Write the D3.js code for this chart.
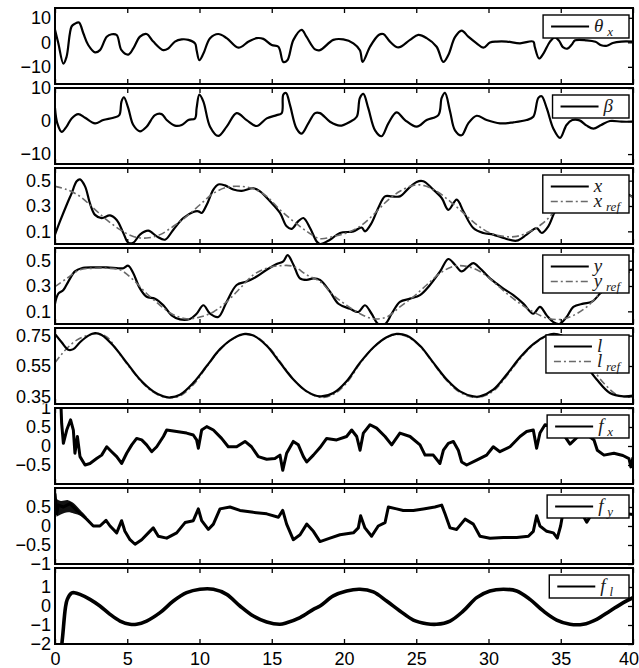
<!DOCTYPE html>
<html lang="en">
<head>
    <meta charset="UTF-8">
    <title>signals</title>
    <script src="https://cdn.jsdelivr.net/npm/d3@7"></script>
    <style>
        body { margin: 0; background: #fff; }
        .tick text { font-family: "Liberation Sans", Arial, sans-serif; font-size: 18px; fill: #000; }
        .leg text { font-family: "Liberation Serif", "DejaVu Serif", serif; font-style: italic; fill: #1a1a1a; }
    </style>
</head>
<body>
<div id="chart"></div>
<script>
// time axis ticks
const xTicks = [0, 5, 10, 15, 20, 25, 30, 35, 40];

// theta_x
const thetaX = [[0,5.1],[0.23,-0.4],[0.58,-8.7],[0.8,-5.9],[1.15,6.5],[1.38,7.6],[1.66,8.1],[1.96,3.7],[2.3,-1.1],[2.77,-4.1],[3.11,-3.2],[3.58,2.3],[3.92,3.3],[4.27,3.0],[4.6,-3.2],[5.07,-5.0],[5.42,-2.5],[5.88,2.3],[6.34,3.4],[6.8,0.3],[7.5,-3.2],[7.84,-2.5],[8.3,0.3],[8.77,1.2],[9.23,1.0],[9.69,-0.4],[9.8,-3.2],[9.99,-7.3],[10.27,-4.6],[10.73,1.7],[11.3,3.4],[11.88,1.7],[12.69,-2.2],[13.4,0.3],[13.96,1.7],[14.42,1.4],[15.0,-1.1],[15.46,-1.8],[15.8,-8.0],[16.08,-7.3],[16.5,1.0],[17.07,5.1],[17.4,2.3],[18.0,-2.9],[18.34,-3.2],[19.26,1.0],[19.95,1.2],[20.65,-0.4],[21.1,-3.2],[21.29,-8.0],[21.8,-1.8],[22.4,3.0],[22.72,3.4],[23.18,0.3],[23.76,-2.1],[24.57,1.0],[25.14,3.0],[25.72,1.7],[26.41,-1.8],[26.87,-8.0],[27.22,-5.2],[27.68,2.1],[28.14,4.8],[28.6,2.3],[29.18,-0.4],[29.64,-2.2],[30.1,-0.1],[30.57,0.3],[31.26,0.3],[32.18,-0.4],[33.1,0.3],[33.2,-1.8],[33.5,-6.6],[33.8,-4.6],[34.26,0.3],[34.6,2.0],[34.9,0.5],[35.15,-2.0],[35.45,-2.6],[35.75,-1.0],[36.0,0.8],[36.8,0.8],[37.4,0.2],[37.8,-1.2],[38.2,-1.4],[38.6,-0.3],[39.2,0.3],[40,0.3]];

// beta
const beta = [[0,3.9],[0.16,-0.7],[0.46,-3.3],[0.8,-1.7],[1.15,0.8],[1.61,2.1],[2.08,1.0],[2.77,-0.7],[3.34,0.3],[4.04,1.0],[4.45,1.8],[4.6,5.9],[4.77,7.2],[5.07,3.9],[5.42,-1.2],[5.88,-3.1],[6.34,-1.7],[6.92,1.8],[7.38,2.1],[7.73,0.3],[8.3,-1.4],[8.77,-1.2],[9.23,0.3],[9.69,0.8],[9.8,3.9],[9.99,8.0],[10.27,5.9],[10.73,-1.7],[11.3,-4.5],[11.88,-1.7],[12.57,2.4],[13.26,0.3],[13.96,-1.5],[14.65,0.8],[15.34,1.8],[15.69,2.4],[15.8,8.0],[15.99,8.5],[16.26,4.9],[16.72,-2.3],[17.07,-3.8],[17.53,-0.7],[18.0,2.4],[18.34,2.4],[19.03,-0.2],[19.72,-1.4],[20.42,-0.2],[20.88,1.3],[21.1,7.0],[21.34,8.2],[21.68,3.9],[22.15,-2.8],[22.6,-4.6],[23.07,-0.7],[23.64,2.6],[24.22,0.3],[25.03,-1.7],[25.72,0.3],[26.53,1.8],[26.76,7.0],[26.99,8.5],[27.34,2.9],[27.68,-2.8],[28.14,-4.3],[28.6,-0.7],[29.18,1.6],[29.87,0.3],[30.8,-0.7],[31.72,-0.4],[32.64,0.3],[33.1,1.3],[33.45,7.0],[33.68,7.5],[34.03,3.9],[34.49,-2.3],[34.95,-5.1],[35.4,-1.2],[35.8,0.3],[36.3,0.2],[36.8,-1.4],[37.26,-2.3],[37.8,-1.2],[38.4,0.0],[39.2,-0.2],[40,-0.2]];

// x and x_ref
const xPos = [[0,0.074],[0.35,0.18],[0.81,0.31],[1.15,0.40],[1.5,0.495],[1.73,0.51],[2.08,0.455],[2.42,0.32],[2.77,0.23],[3.23,0.205],[3.81,0.226],[4.27,0.19],[4.73,0.087],[5.07,0.01],[5.42,0.01],[5.88,0.074],[6.46,0.105],[7.04,0.06],[7.61,0.034],[8.19,0.113],[8.88,0.205],[9.57,0.253],[9.92,0.258],[10.15,0.245],[10.5,0.31],[10.96,0.43],[11.3,0.47],[11.76,0.463],[12.34,0.43],[12.92,0.42],[13.73,0.44],[14.19,0.416],[14.88,0.337],[15.57,0.245],[16.03,0.14],[16.38,0.12],[16.84,0.18],[17.19,0.205],[17.65,0.126],[18.11,0.02],[18.34,0.0],[19.03,0.034],[19.72,0.087],[20.65,0.1],[21.22,0.13],[21.45,0.1],[21.91,0.166],[22.37,0.284],[22.84,0.376],[23.3,0.376],[23.87,0.376],[24.45,0.437],[25.03,0.49],[25.49,0.495],[26.06,0.442],[26.76,0.363],[27.22,0.27],[27.8,0.35],[28.26,0.258],[28.95,0.126],[29.64,0.087],[30.33,0.074],[31.03,0.047],[31.95,0.026],[32.64,0.074],[33.33,0.126],[33.68,0.087],[34.14,0.14],[34.49,0.23],[34.83,0.31],[35.4,0.42],[36.0,0.47],[36.6,0.46],[37.3,0.44],[38.0,0.47],[38.6,0.48],[39.3,0.42],[40,0.37]];
const xRef = [[0,0.455],[0.81,0.43],[1.73,0.376],[2.65,0.284],[3.58,0.19],[4.5,0.113],[5.42,0.06],[6.34,0.047],[7.27,0.074],[8.19,0.14],[9.11,0.218],[10.03,0.31],[10.96,0.4],[11.88,0.447],[12.8,0.455],[13.73,0.437],[14.65,0.376],[15.57,0.27],[16.5,0.18],[17.42,0.1],[18.34,0.042],[19.26,0.06],[20.18,0.087],[21.11,0.14],[22.03,0.23],[22.95,0.337],[23.87,0.416],[24.8,0.463],[25.49,0.463],[26.41,0.416],[27.34,0.337],[28.26,0.245],[29.18,0.153],[30.1,0.087],[31.03,0.06],[31.95,0.06],[32.87,0.1],[33.79,0.166],[34.49,0.245],[35.4,0.33],[36.3,0.41],[37.2,0.45],[38.1,0.455],[39.0,0.42],[40,0.37]];

// y and y_ref
const yPos = [[0,0.16],[0.23,0.24],[0.58,0.268],[0.92,0.335],[1.38,0.415],[1.84,0.44],[2.65,0.447],[3.58,0.447],[4.38,0.44],[4.73,0.44],[5.07,0.46],[5.42,0.4],[5.88,0.28],[6.34,0.215],[6.92,0.2],[7.5,0.148],[8.07,0.068],[8.65,0.036],[9.34,0.04],[9.8,0.081],[10.27,0.148],[10.73,0.081],[11.3,0.055],[11.88,0.175],[12.57,0.308],[13.26,0.335],[13.96,0.375],[14.65,0.428],[15.34,0.473],[15.8,0.495],[16.1,0.543],[16.5,0.468],[16.95,0.36],[17.42,0.348],[17.88,0.36],[18.34,0.348],[19.03,0.255],[19.61,0.16],[20.41,0.12],[20.99,0.095],[21.45,0.148],[21.91,0.081],[22.37,0.0],[22.84,0.0],[23.3,0.081],[23.87,0.175],[24.57,0.2],[25.26,0.228],[25.95,0.308],[26.65,0.415],[27.22,0.513],[27.68,0.468],[28.14,0.415],[28.6,0.455],[28.95,0.48],[29.41,0.44],[30.1,0.36],[31.03,0.28],[31.72,0.228],[32.41,0.161],[33.1,0.081],[33.56,0.135],[34.03,0.068],[34.49,0.015],[34.9,0.0],[35.41,0.055],[35.87,0.135],[36.56,0.161],[37.14,0.175],[37.72,0.24],[38.3,0.31],[38.9,0.38],[39.5,0.42],[40,0.43]];
const yRef = [[0,0.295],[0.81,0.36],[1.73,0.428],[2.65,0.44],[3.58,0.44],[4.5,0.428],[5.42,0.348],[6.34,0.241],[7.27,0.148],[8.19,0.073],[9.11,0.041],[10.03,0.055],[10.96,0.095],[11.88,0.175],[12.8,0.281],[13.73,0.388],[14.65,0.44],[15.57,0.46],[16.5,0.455],[17.42,0.388],[18.34,0.335],[19.26,0.228],[20.18,0.148],[21.11,0.081],[22.03,0.041],[22.95,0.055],[23.87,0.135],[24.8,0.215],[25.72,0.308],[26.65,0.401],[27.57,0.455],[28.49,0.455],[29.41,0.415],[30.33,0.335],[31.26,0.241],[32.18,0.161],[33.1,0.095],[34.03,0.047],[34.95,0.036],[35.87,0.068],[36.8,0.135],[37.72,0.241],[38.6,0.33],[39.4,0.39],[40,0.42]];

// l and l_ref
const lLen = [[0,0.761],[0.46,0.706],[0.92,0.657],[1.27,0.661],[1.73,0.706],[2.31,0.75],[2.77,0.766],[3.23,0.754],[4.04,0.683],[4.96,0.572],[5.88,0.461],[6.8,0.383],[7.5,0.35],[7.96,0.343],[8.65,0.361],[9.57,0.439],[10.5,0.55],[11.42,0.661],[12.34,0.732],[13.15,0.761],[13.73,0.75],[14.65,0.683],[15.57,0.572],[16.5,0.461],[17.42,0.383],[18.34,0.35],[19.26,0.372],[20.18,0.45],[21.11,0.572],[22.03,0.672],[22.95,0.739],[23.64,0.761],[24.33,0.75],[25.26,0.683],[26.18,0.572],[27.11,0.461],[28.03,0.383],[28.95,0.35],[29.41,0.35],[30.33,0.394],[31.26,0.494],[32.18,0.606],[33.1,0.694],[34.03,0.75],[34.5,0.762],[35.0,0.752],[35.7,0.683],[36.6,0.572],[37.49,0.461],[38.4,0.372],[39.33,0.35],[40,0.355]];
const lRef = [[0,0.572],[0.46,0.628],[0.92,0.675],[1.5,0.72],[2.2,0.75],[2.9,0.763],[3.6,0.74],[4.5,0.625],[5.4,0.512],[6.3,0.415],[7.2,0.357],[7.96,0.34],[8.7,0.355],[9.6,0.43],[10.5,0.545],[11.4,0.655],[12.3,0.728],[13.15,0.758],[14.0,0.738],[14.9,0.663],[15.8,0.55],[16.7,0.44],[17.6,0.37],[18.5,0.343],[19.3,0.365],[20.2,0.44],[21.1,0.565],[22.0,0.667],[22.9,0.735],[23.65,0.758],[24.4,0.742],[25.3,0.675],[26.2,0.565],[27.1,0.455],[28.0,0.378],[28.9,0.345],[29.6,0.35],[30.4,0.39],[31.3,0.49],[32.2,0.6],[33.1,0.69],[34.0,0.745],[34.6,0.758],[35.3,0.745],[36.2,0.66],[37.1,0.545],[38.0,0.435],[38.9,0.36],[39.6,0.345],[40,0.348]];

// forces
const fx = [[0,1.3],[0.4,1.2],[0.46,0.6],[0.58,0.07],[0.81,0.42],[1.08,0.69],[1.27,0.42],[1.38,-0.19],[1.55,0.25],[1.73,-0.28],[2.08,-0.5],[2.42,-0.46],[2.88,-0.33],[3.23,-0.24],[3.58,-0.02],[3.92,-0.15],[4.27,-0.28],[4.61,-0.46],[4.96,-0.19],[5.31,0.03],[5.65,0.2],[6.0,0.16],[6.34,0.03],[6.69,-0.15],[7.04,-0.02],[7.5,0.25],[7.73,0.42],[8.42,0.38],[9.11,0.34],[9.57,0.29],[9.8,0.16],[9.92,-0.06],[10.15,0.42],[10.5,0.51],[10.96,0.42],[11.53,0.2],[11.99,-0.02],[12.57,-0.02],[13.15,0.12],[13.6,-0.02],[14.07,-0.28],[14.65,-0.35],[15.22,-0.33],[15.57,-0.24],[15.76,-0.64],[16.03,-0.19],[16.49,0.12],[16.84,0.03],[17.19,-0.28],[17.42,-0.42],[17.88,-0.24],[18.34,-0.04],[18.8,0.2],[19.49,0.16],[20.18,0.25],[20.53,0.42],[20.88,0.25],[21.11,-0.11],[21.34,0.34],[21.8,0.56],[22.26,0.47],[22.84,0.25],[23.3,0.03],[23.87,0.34],[24.57,0.25],[25.26,0.03],[25.61,-0.24],[26.18,-0.24],[26.64,-0.46],[26.88,-0.11],[27.22,0.07],[27.57,0.12],[27.91,-0.11],[28.14,-0.42],[28.49,-0.5],[29.18,-0.37],[29.87,-0.24],[30.33,-0.02],[30.79,-0.15],[31.49,-0.02],[32.18,0.25],[32.64,0.38],[33.1,0.42],[33.33,-0.06],[33.56,0.34],[33.91,0.56],[34.5,0.5],[35.2,0.3],[35.64,0.05],[36.2,0.25],[36.8,0.3],[37.3,0.16],[37.53,-0.11],[37.99,-0.24],[38.68,-0.19],[39.3,-0.25],[39.72,-0.33],[39.85,-0.55],[40,-0.3]];
const fy = [[0,0.86],[0.12,0.32],[0.23,0.55],[0.58,0.5],[1.04,0.59],[1.5,0.41],[2.19,0.18],[2.65,0.0],[3.11,0.0],[3.53,0.15],[3.81,0.0],[4.27,-0.18],[4.61,0.14],[4.84,-0.14],[5.19,-0.36],[5.54,-0.48],[6.0,-0.36],[6.46,-0.18],[6.8,-0.05],[7.15,-0.27],[7.73,-0.32],[8.42,-0.18],[9.0,0.09],[9.57,0.14],[9.92,0.45],[10.15,0.14],[10.61,-0.09],[10.96,0.05],[11.42,0.45],[12.11,0.5],[12.8,0.41],[13.73,0.36],[14.65,0.32],[15.46,0.23],[15.76,0.41],[16.03,0.05],[16.49,-0.36],[16.96,-0.23],[17.42,0.05],[17.88,-0.14],[18.34,-0.41],[19.03,-0.32],[19.72,-0.23],[20.65,-0.18],[20.99,-0.05],[21.15,0.27],[21.45,-0.05],[21.91,-0.27],[22.37,0.0],[22.84,0.09],[23.07,0.5],[23.64,0.45],[24.1,0.41],[24.8,0.41],[25.49,0.45],[26.29,0.5],[26.76,0.55],[26.99,0.32],[27.34,-0.05],[27.8,-0.09],[28.38,0.18],[28.95,0.05],[29.41,-0.27],[30.1,-0.32],[31.03,-0.3],[31.95,-0.3],[32.76,-0.27],[33.1,-0.14],[33.33,0.27],[33.56,0.0],[34.03,-0.14],[34.49,-0.18],[34.76,-0.32],[34.99,0.0],[35.2,0.45],[35.8,0.4],[36.5,0.3],[36.8,0.1],[37.2,0.35],[38.0,0.4],[39.0,0.35],[40,0.3]];
// envelope of the fast oscillation in f_y at start-up
const fyBandHi = [[0.1,0.72],[0.4,0.66],[0.9,0.68],[1.3,0.6],[1.8,0.4],[2.2,0.24]];
const fyBandLo = [[0.1,0.24],[0.4,0.3],[0.9,0.36],[1.3,0.33],[1.8,0.26],[2.2,0.14]];
const fl = [[0,-2.6],[0.4,-2.3],[0.5,-1.8],[0.72,-0.1],[0.85,0.35],[1.15,0.68],[1.35,0.7],[1.73,0.61],[2.42,0.35],[3.11,0.0],[3.81,-0.44],[4.5,-0.79],[5.19,-0.96],[5.65,-0.96],[6.34,-0.79],[7.27,-0.35],[8.19,0.26],[9.11,0.7],[10.03,0.88],[10.96,0.88],[11.88,0.61],[12.8,0.0],[13.73,-0.53],[14.65,-0.84],[15.57,-0.96],[16.03,-0.88],[16.96,-0.61],[17.88,-0.18],[18.34,0.0],[19.26,0.53],[20.18,0.79],[21.11,0.88],[22.03,0.74],[22.95,0.26],[23.87,-0.26],[24.8,-0.74],[25.72,-0.93],[26.41,-0.96],[27.34,-0.79],[28.26,-0.26],[29.18,0.44],[30.1,0.79],[31.03,0.88],[31.95,0.79],[32.87,0.35],[33.79,-0.26],[34.72,-0.74],[35.64,-0.96],[36.56,-0.96],[37.49,-0.7],[38.41,-0.26],[39.33,0.18],[40,0.44]];

// y limits and tick values of each panel
const yLims = [[-17, 14], [-13, 10], [0, 0.6], [0, 0.6], [0.3, 0.8], [-1, 1], [-1, 1], [-2, 2]];
const yTickVals = [[-10, 0, 10], [-10, 0, 10], [0.1, 0.3, 0.5], [0.1, 0.3, 0.5], [0.35, 0.55, 0.75], [-0.5, 0, 0.5, 1], [-1, -0.5, 0, 0.5], [-2, -1, 0, 1]];

const panels = [
    { lines: [{ d: thetaX, k: "solid" }], leg: [{ s: "θ", sub: "x", k: "solid" }] },
    { lines: [{ d: beta, k: "solid" }], leg: [{ s: "β", sub: "", k: "solid" }] },
    { lines: [{ d: xPos, k: "solid" }, { d: xRef, k: "ref" }], leg: [{ s: "x", sub: "", k: "solid" }, { s: "x", sub: "ref", k: "ref" }] },
    { lines: [{ d: yPos, k: "solid" }, { d: yRef, k: "ref" }], leg: [{ s: "y", sub: "", k: "solid" }, { s: "y", sub: "ref", k: "ref" }] },
    { lines: [{ d: lRef, k: "ref" }, { d: lLen, k: "solid" }], leg: [{ s: "l", sub: "", k: "solid" }, { s: "l", sub: "ref", k: "ref" }] },
    { lines: [{ d: fx, k: "noisy" }], leg: [{ s: "f", sub: "x", k: "solid" }] },
    { lines: [{ d: fy, k: "noisy" }], band: [fyBandHi, fyBandLo], leg: [{ s: "f", sub: "y", k: "solid" }] },
    { lines: [{ d: fl, k: "thick" }], leg: [{ s: "f", sub: "l", k: "solid" }] }
];

const width = 639, height = 668;
const left = 55, right = 633, top0 = 8, step = 80, ph = 76;

const svg = d3.select("#chart").append("svg").attr("width", width).attr("height", height);
svg.append("rect").attr("width", width).attr("height", height).attr("fill", "#fff");

const x = d3.scaleLinear().domain([0, 40]).range([left, right]);
const fmt = v => String(v).replace("-", "\u2212");

const styles = {
    solid: { stroke: "#000", w: 2.2, dash: null, curve: d3.curveCatmullRom.alpha(0.5) },
    ref: { stroke: "#6a6a6a", w: 1.6, dash: "7,3,2,3", curve: d3.curveCatmullRom.alpha(0.5) },
    noisy: { stroke: "#000", w: 3, dash: null, curve: d3.curveLinear },
    thick: { stroke: "#000", w: 3.6, dash: null, curve: d3.curveCatmullRom.alpha(0.5) }
};

let prevLabelBottom = 0; // lowest tick label edge of the panel above
panels.forEach((p, i) => {
    const top = top0 + i * step;
    const y = d3.scaleLinear().domain(yLims[i]).range([top + ph, top]);
    const g = svg.append("g");

    g.append("clipPath").attr("id", "clip" + i)
        .append("rect").attr("x", left).attr("y", top).attr("width", right - left).attr("height", ph);
    // a top label is cut where it would run into the label of the panel above
    const clipTop = Math.max(top - 8, prevLabelBottom);
    g.append("clipPath").attr("id", "lab" + i)
        .append("rect").attr("x", 0).attr("y", clipTop).attr("width", left).attr("height", top + ph + 12 - clipTop);
    prevLabelBottom = y(d3.min(yTickVals[i])) + 7;
    const plot = g.append("g").attr("clip-path", `url(#clip${i})`);

    if (p.band) {
        const hi = p.band[0], lo = p.band[1];
        const area = d3.area().x(d => x(d[0])).y0((d, j) => y(lo[j][1])).y1(d => y(d[1])).curve(d3.curveCatmullRom);
        plot.append("path").attr("d", area(hi)).attr("fill", "#111");
    }

    p.lines.forEach(s => {
        const st = styles[s.k];
        const line = d3.line().x(d => x(d[0])).y(d => y(d[1])).curve(st.curve);
        plot.append("path").attr("d", line(s.d))
            .attr("fill", "none").attr("stroke", st.stroke).attr("stroke-width", st.w)
            .attr("stroke-dasharray", st.dash).attr("stroke-linejoin", "round");
    });

    // axes, ticks pointing inward on all four sides
    const ax = (parent, a, tx, ty) => parent.append("g").attr("transform", `translate(${tx},${ty})`).call(a);
    const leftWrap = g.append("g").attr("clip-path", `url(#lab${i})`);
    ax(leftWrap, d3.axisLeft(y).tickValues(yTickVals[i]).tickSize(-5).tickPadding(4).tickFormat(fmt), left, 0);
    ax(g, d3.axisRight(y).tickValues(yTickVals[i]).tickSize(-5).tickFormat(""), right, 0);
    ax(g, d3.axisTop(x).tickValues(xTicks).tickSize(-5).tickFormat(""), 0, top);
    const last = i === panels.length - 1;
    const xb = ax(g, d3.axisBottom(x).tickValues(xTicks).tickSize(-5).tickPadding(8).tickFormat(last ? d => d : ""), 0, top + ph);
    if (last) xb.selectAll(".tick:last-child text").attr("dx", "-0.25em");
    g.selectAll(".domain").remove();
    g.selectAll(".tick line").attr("stroke", "#000").attr("stroke-width", 1.3);

    g.append("rect").attr("x", left).attr("y", top).attr("width", right - left).attr("height", ph)
        .attr("fill", "none").attr("stroke", "#000").attr("stroke-width", 2);

    // legend
    const lg = g.append("g").attr("class", "leg");
    const rowH = 15;
    const texts = p.leg.map((e, j) => {
        const cy = 11.5 + j * rowH;
        const st = styles[e.k === "ref" ? "ref" : "solid"];
        lg.append("line").attr("x1", 8).attr("x2", 46).attr("y1", cy).attr("y2", cy)
            .attr("stroke", st.stroke).attr("stroke-width", e.k === "ref" ? 1.4 : 1.8)
            .attr("stroke-dasharray", st.dash);
        const t = lg.append("text").attr("x", 51).attr("y", cy + 5).style("font-size", "19px")
            .text(e.s + (e.sub ? "\u2009" : ""));
        if (e.sub) t.append("tspan").attr("dy", 4).style("font-size", "13px").text(e.sub);
        return t;
    });
    const tw = d3.max(texts, t => t.node().getComputedTextLength());
    const bw = 51 + tw + (p.leg.length > 1 ? 9 : 16), bh = p.leg.length * rowH + 8;
    lg.insert("rect", ":first-child").attr("width", bw).attr("height", bh)
        .attr("fill", "#fff").attr("stroke", "#000").attr("stroke-width", 1.4);
    lg.attr("transform", `translate(${629 - bw},${top + 7})`);
});
</script>
</body>
</html>
